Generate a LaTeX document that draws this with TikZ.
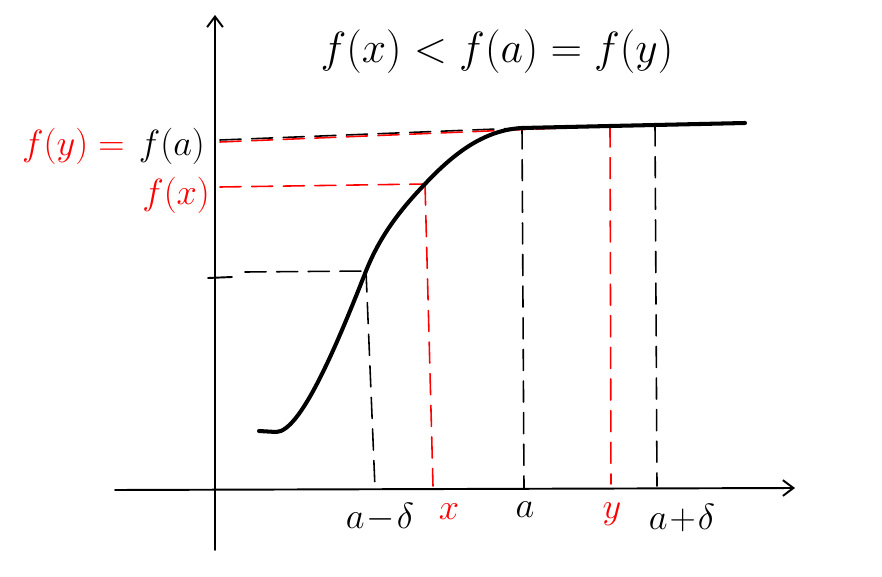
\documentclass[tikz,border=0pt]{standalone}
\usepackage{amsmath}
\usepackage{amssymb}
\usepackage{xcolor}
\usetikzlibrary{arrows.meta}

\begin{document}
\begin{tikzpicture}[x=0.02cm, y=-0.02cm, line cap=round, line join=round,
		axis/.style={line width=1.1pt, -{Straight Barb[length=6pt,width=9pt]}},
		guide/.style={line width=0.9pt, dash pattern=on 12pt off 6pt},
		redguide/.style={guide, red},
		label/.style={font=\fontsize{20}{24}\selectfont, inner sep=1pt},
		redlabel/.style={label, text=red}]
		\useasboundingbox (0,0) rectangle (882,577);
		% axes
		\coordinate (o) at (215,490);
		\coordinate (ytop) at (215,15);
		\coordinate (ybot) at (215,550);
		\coordinate (xleft) at (115,490);
		\coordinate (xright) at (795,488);
		\draw[axis] (ybot) -- (ytop);
		\draw[axis] (xleft) -- (xright);
		% points on the curve
		\coordinate (pstart) at (259,431);
		\coordinate (pd) at (366,271);
		\coordinate (px) at (425,184);
		\coordinate (pa) at (522,128);
		\coordinate (py) at (610,126);
		\coordinate (pe) at (655,125);
		\coordinate (pend) at (745,123);
		% dashed guides
		\draw[guide] (245,272) -- (pd);
		\draw[line width=1.1pt] (208,278) -- (232,277);
		\draw[guide] (pd) -- (375,488);
		\draw[guide] (220,140) -- (pa);
		\draw[guide] (pa) -- (524,488);
		\draw[guide] (pe) -- (657,486);
		\draw[redguide] (220,142) -- (py);
		\draw[redguide] (220,187) -- (px);
		\draw[redguide] (px) -- (433,486);
		\draw[redguide] (py) -- (611,484);
		% curve
		\draw[line width=2.3pt] (pstart) -- (276,432)
			.. controls (300,432) and (335,350) .. (pd)
			.. controls (380,236) and (400,210) .. (px)
			.. controls (455,152) and (485,130) .. (pa)
			-- (py) -- (pe) -- (pend);
		% labels
		\node[font=\fontsize{25}{30}\selectfont] (title) at (497,52) {$f(x) < f(a) = f(y)$};
		\node[label, anchor=east] (fa) at (207,146) {$f(a)$};
		\node[redlabel, anchor=east] (fy) at (fa.west) {$f(y) = {}$};
		\node[redlabel, anchor=east] (fx) at (212,195) {$f(x)$};
		\node[label] (lad) at (380,517) {$a\!-\!\delta$};
		\node[redlabel] (lx) at (449,512) {$x$};
		\node[label] (la) at (525,510) {$a$};
		\node[redlabel] (ly) at (612,514) {$y$};
		\node[label] (lae) at (682,518) {$a\!+\!\delta$};
	\end{tikzpicture}
\end{document}
